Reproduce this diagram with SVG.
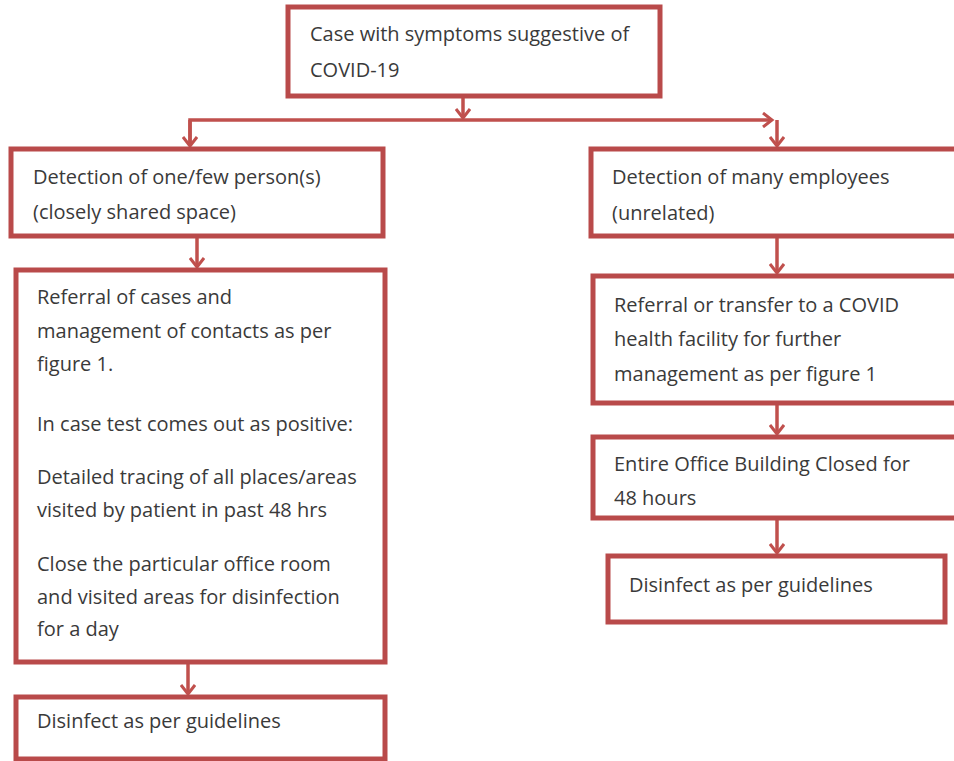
<svg xmlns="http://www.w3.org/2000/svg" width="954" height="761" viewBox="0 0 954 761">
<defs>
<style>
.box{fill:#ffffff;stroke:#b94a4a;stroke-width:5}
.t{font-family:"Open Sans","Liberation Sans",sans-serif;font-size:20px;fill:#3a3a3a}
.c{fill:none;stroke:#c0504d;stroke-width:3.5}
</style>
<marker id="ah" markerWidth="16" markerHeight="16" refX="12" refY="8" orient="auto" markerUnits="userSpaceOnUse">
<path d="M3,1 L12,8 L3,15" fill="none" stroke="#c0504d" stroke-width="3"/>
</marker>
</defs>
<rect width="954" height="761" fill="#ffffff"/>
<g id="connectors">
<line class="c" x1="463" y1="96" x2="463" y2="118" marker-end="url(#ah)"/>
<polyline class="c" points="190,146 190,120 772,120" marker-end="url(#ah)"/>
<line class="c" x1="190" y1="120" x2="190" y2="146" marker-end="url(#ah)"/>
<line class="c" x1="777" y1="120" x2="777" y2="146" marker-end="url(#ah)"/>
<line class="c" x1="197" y1="237" x2="197" y2="267" marker-end="url(#ah)"/>
<line class="c" x1="777" y1="237" x2="777" y2="273" marker-end="url(#ah)"/>
<line class="c" x1="777" y1="404" x2="777" y2="434" marker-end="url(#ah)"/>
<line class="c" x1="777" y1="519" x2="777" y2="553" marker-end="url(#ah)"/>
<line class="c" x1="188" y1="663" x2="188" y2="694" marker-end="url(#ah)"/>
</g>
<g id="n-case">
<rect class="box" x="288" y="7" width="372" height="89"/>
<text class="t" x="310" y="41">Case with symptoms suggestive of</text>
<text class="t" x="310" y="77">COVID-19</text>
</g>
<g id="n-few">
<rect class="box" x="11" y="149" width="372" height="87"/>
<text class="t" x="33" y="184">Detection of one/few person(s)</text>
<text class="t" x="33" y="219">(closely shared space)</text>
</g>
<g id="n-referral-left">
<rect class="box" x="16" y="270" width="369" height="392"/>
<text class="t" x="37" y="304">Referral of cases and</text>
<text class="t" x="37" y="338">management of contacts as per</text>
<text class="t" x="37" y="371">figure 1.</text>
<text class="t" x="37" y="431">In case test comes out as positive:</text>
<text class="t" x="37" y="484">Detailed tracing of all places/areas</text>
<text class="t" x="37" y="517">visited by patient in past 48 hrs</text>
<text class="t" x="37" y="571">Close the particular office room</text>
<text class="t" x="37" y="604">and visited areas for disinfection</text>
<text class="t" x="37" y="636">for a day</text>
</g>
<g id="n-disinfect-left">
<rect class="box" x="16" y="697" width="369" height="62"/>
<text class="t" x="37" y="728">Disinfect as per guidelines</text>
</g>
<g id="n-many">
<rect class="box" x="591" y="149" width="368" height="87"/>
<text class="t" x="612" y="184">Detection of many employees</text>
<text class="t" x="612" y="220">(unrelated)</text>
</g>
<g id="n-referral-right">
<rect class="box" x="593" y="276" width="366" height="127"/>
<text class="t" x="614" y="312">Referral or transfer to a COVID</text>
<text class="t" x="614" y="346">health facility for further</text>
<text class="t" x="614" y="381">management as per figure 1</text>
</g>
<g id="n-closed">
<rect class="box" x="593" y="437" width="366" height="81"/>
<text class="t" x="614" y="471">Entire Office Building Closed for</text>
<text class="t" x="614" y="505">48 hours</text>
</g>
<g id="n-disinfect-right">
<rect class="box" x="608" y="556" width="337" height="66"/>
<text class="t" x="629" y="592">Disinfect as per guidelines</text>
</g>
</svg>
